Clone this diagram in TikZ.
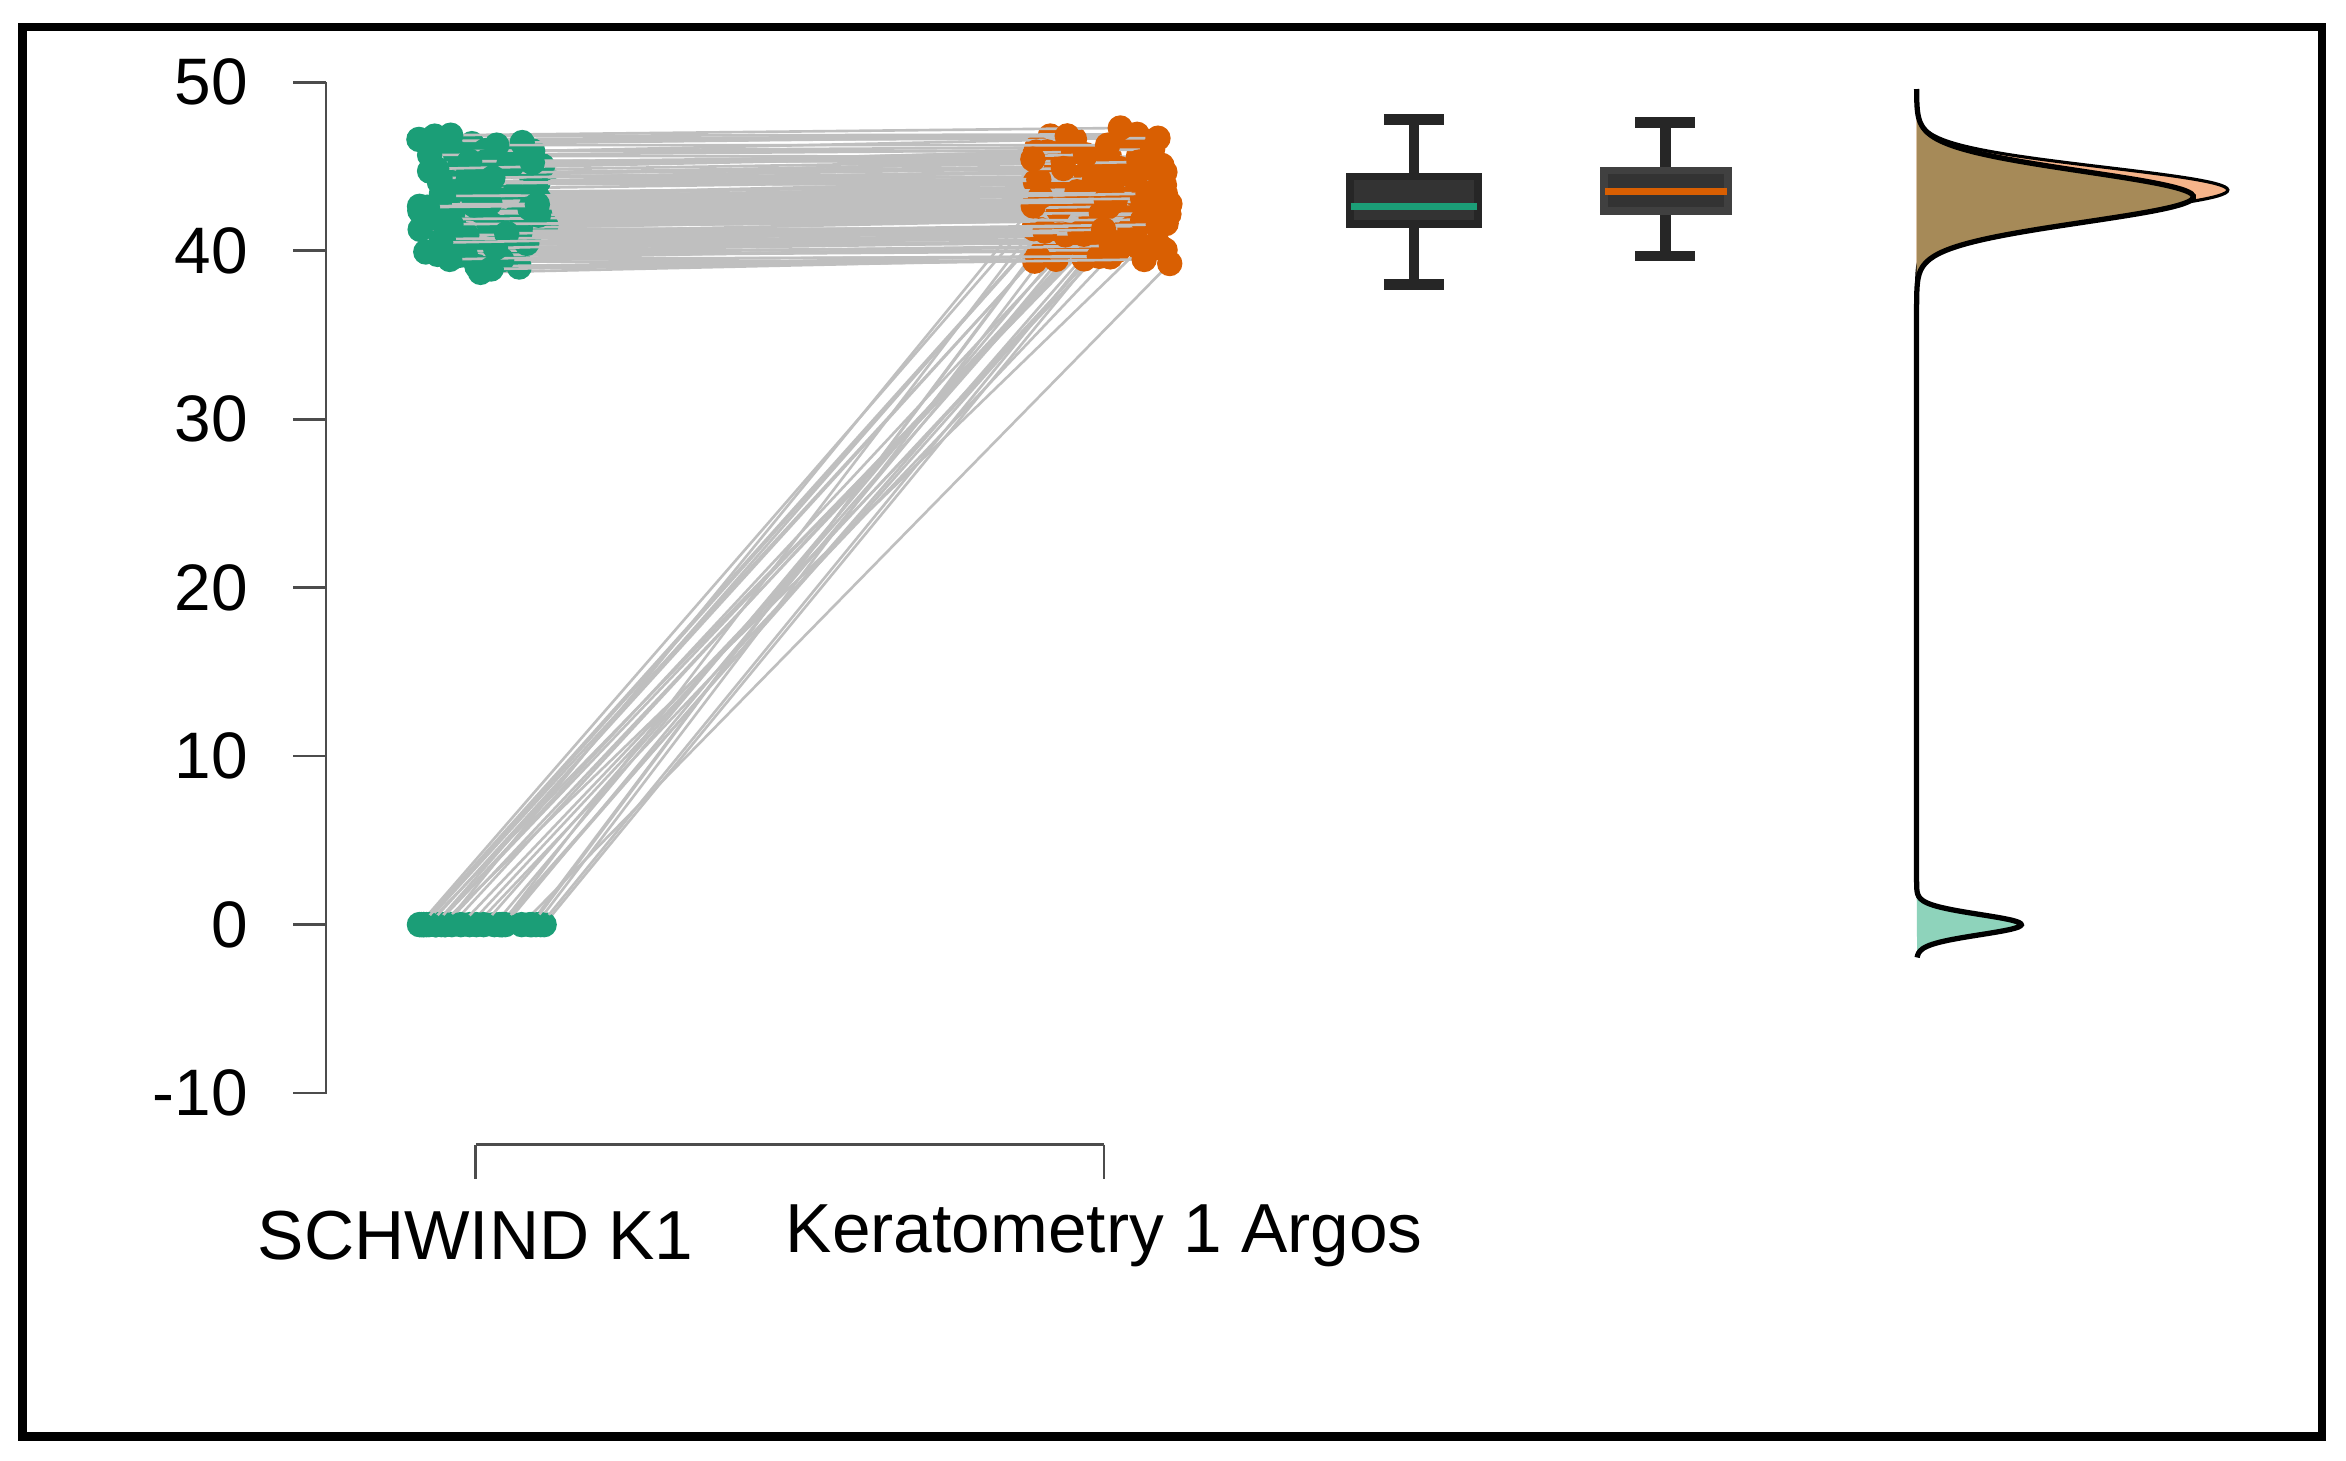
\documentclass[tikz,border=0pt]{standalone}
\usepackage{fontspec}
\setmainfont{Liberation Sans}
\definecolor{gr}{HTML}{1B9E77}
\definecolor{orn}{HTML}{D95F02}
\definecolor{brn}{HTML}{A68A58}
\definecolor{lorn}{HTML}{F6B48A}
\definecolor{lgr}{HTML}{8ED3BB}
\begin{document}
\begin{tikzpicture}[x=0.1mm,y=-0.1mm,font=\fontsize{12.5}{14}\selectfont,
  ax/.style={draw=black!70,line width=0.5pt}]
\useasboundingbox (0,0) rectangle (1568,976);
\fill[white] (0,0) rectangle (1568,976);
\draw[line width=1.6pt] (15,18) rectangle (1552,960);
% y axis
\draw[ax] (218,55) -- (218,731);
\foreach \v in {-10,0,...,50}{
  \pgfmathsetmacro\yy{618-11.26*\v}
  \draw[ax] (196,\yy) -- (218,\yy);
  \node[anchor=east] at (178,\yy) {\v};
}
% x axis
\draw[ax] (318,765) -- (738,765);
\draw[ax] (318,765) -- (318,788);
\draw[ax] (738,765) -- (738,788);
\node[font=\fontsize{13.2}{15}\selectfont] at (318,826) {SCHWIND K1};
\node[font=\fontsize{13.2}{15}\selectfont] at (738,826) {Keratometry 1 Argos};
% data
\pgfmathsetseed{7}
\foreach \i in {1,...,170}{
  \pgfmathsetmacro\xg{280+85*rnd}
  \pgfmathsetmacro\xo{690+92*rnd}
  \pgfmathsetmacro\vb{38.3+4.7*rnd+4.7*rnd}
  \pgfmathsetmacro\vo{\vb+0.8*rnd-0.2}
  \pgfmathsetmacro\vg{ifthenelse(\i<=28,0,\vb-0.4*rnd)}
  \pgfmathsetmacro\yg{618-11.26*\vg}
  \pgfmathsetmacro\yo{618-11.26*\vo}
  \draw[gray!50,line width=0.5pt] (\xg,\yg) -- (\xo,\yo);
  \fill[gr] (\xg,\yg) circle (8.5);
  \fill[orn] (\xo,\yo) circle (8.5);
}
% boxplots
\draw[line width=2pt,black!85] (945,80) -- (945,150) (945,118) -- (945,190)
  (925,80) -- (965,80) (925,190) -- (965,190);
\filldraw[fill=black!80,draw=black!85,line width=1.5pt] (902,118) rectangle (988,150);
\draw[gr,line width=1.5pt] (903,138) -- (987,138);
\draw[line width=2pt,black!85] (1113,82) -- (1113,171)
  (1093,82) -- (1133,82) (1093,171) -- (1133,171);
\filldraw[fill=black!80,draw=black!75,line width=1.5pt] (1072,114) rectangle (1155,141);
\draw[orn,line width=1.5pt] (1073,128) -- (1154,128);
% densities
\fill[lorn,draw=black,line width=0.6pt]
  plot[domain=36:49.5,samples=150,smooth] ({1281+208*exp(-((\x-43.6)/1.35)^2/2)},{618-11.26*\x});
\fill[brn]
  plot[domain=33:49.6,samples=200,smooth] ({1281+185*exp(-((\x-43.2)/1.5)^2/2)},{618-11.26*\x});
\fill[lgr]
  plot[domain=-1.95:2.5,samples=80,smooth] ({1281+70*exp(-(\x/0.6)^2/2)},{618-11.26*\x});
\draw[black,line width=1pt]
  plot[domain=-1.95:49.6,samples=400,smooth] ({1281+185*exp(-((\x-43.2)/1.5)^2/2)+70*exp(-(\x/0.6)^2/2)},{618-11.26*\x});
\end{tikzpicture}
\end{document}
